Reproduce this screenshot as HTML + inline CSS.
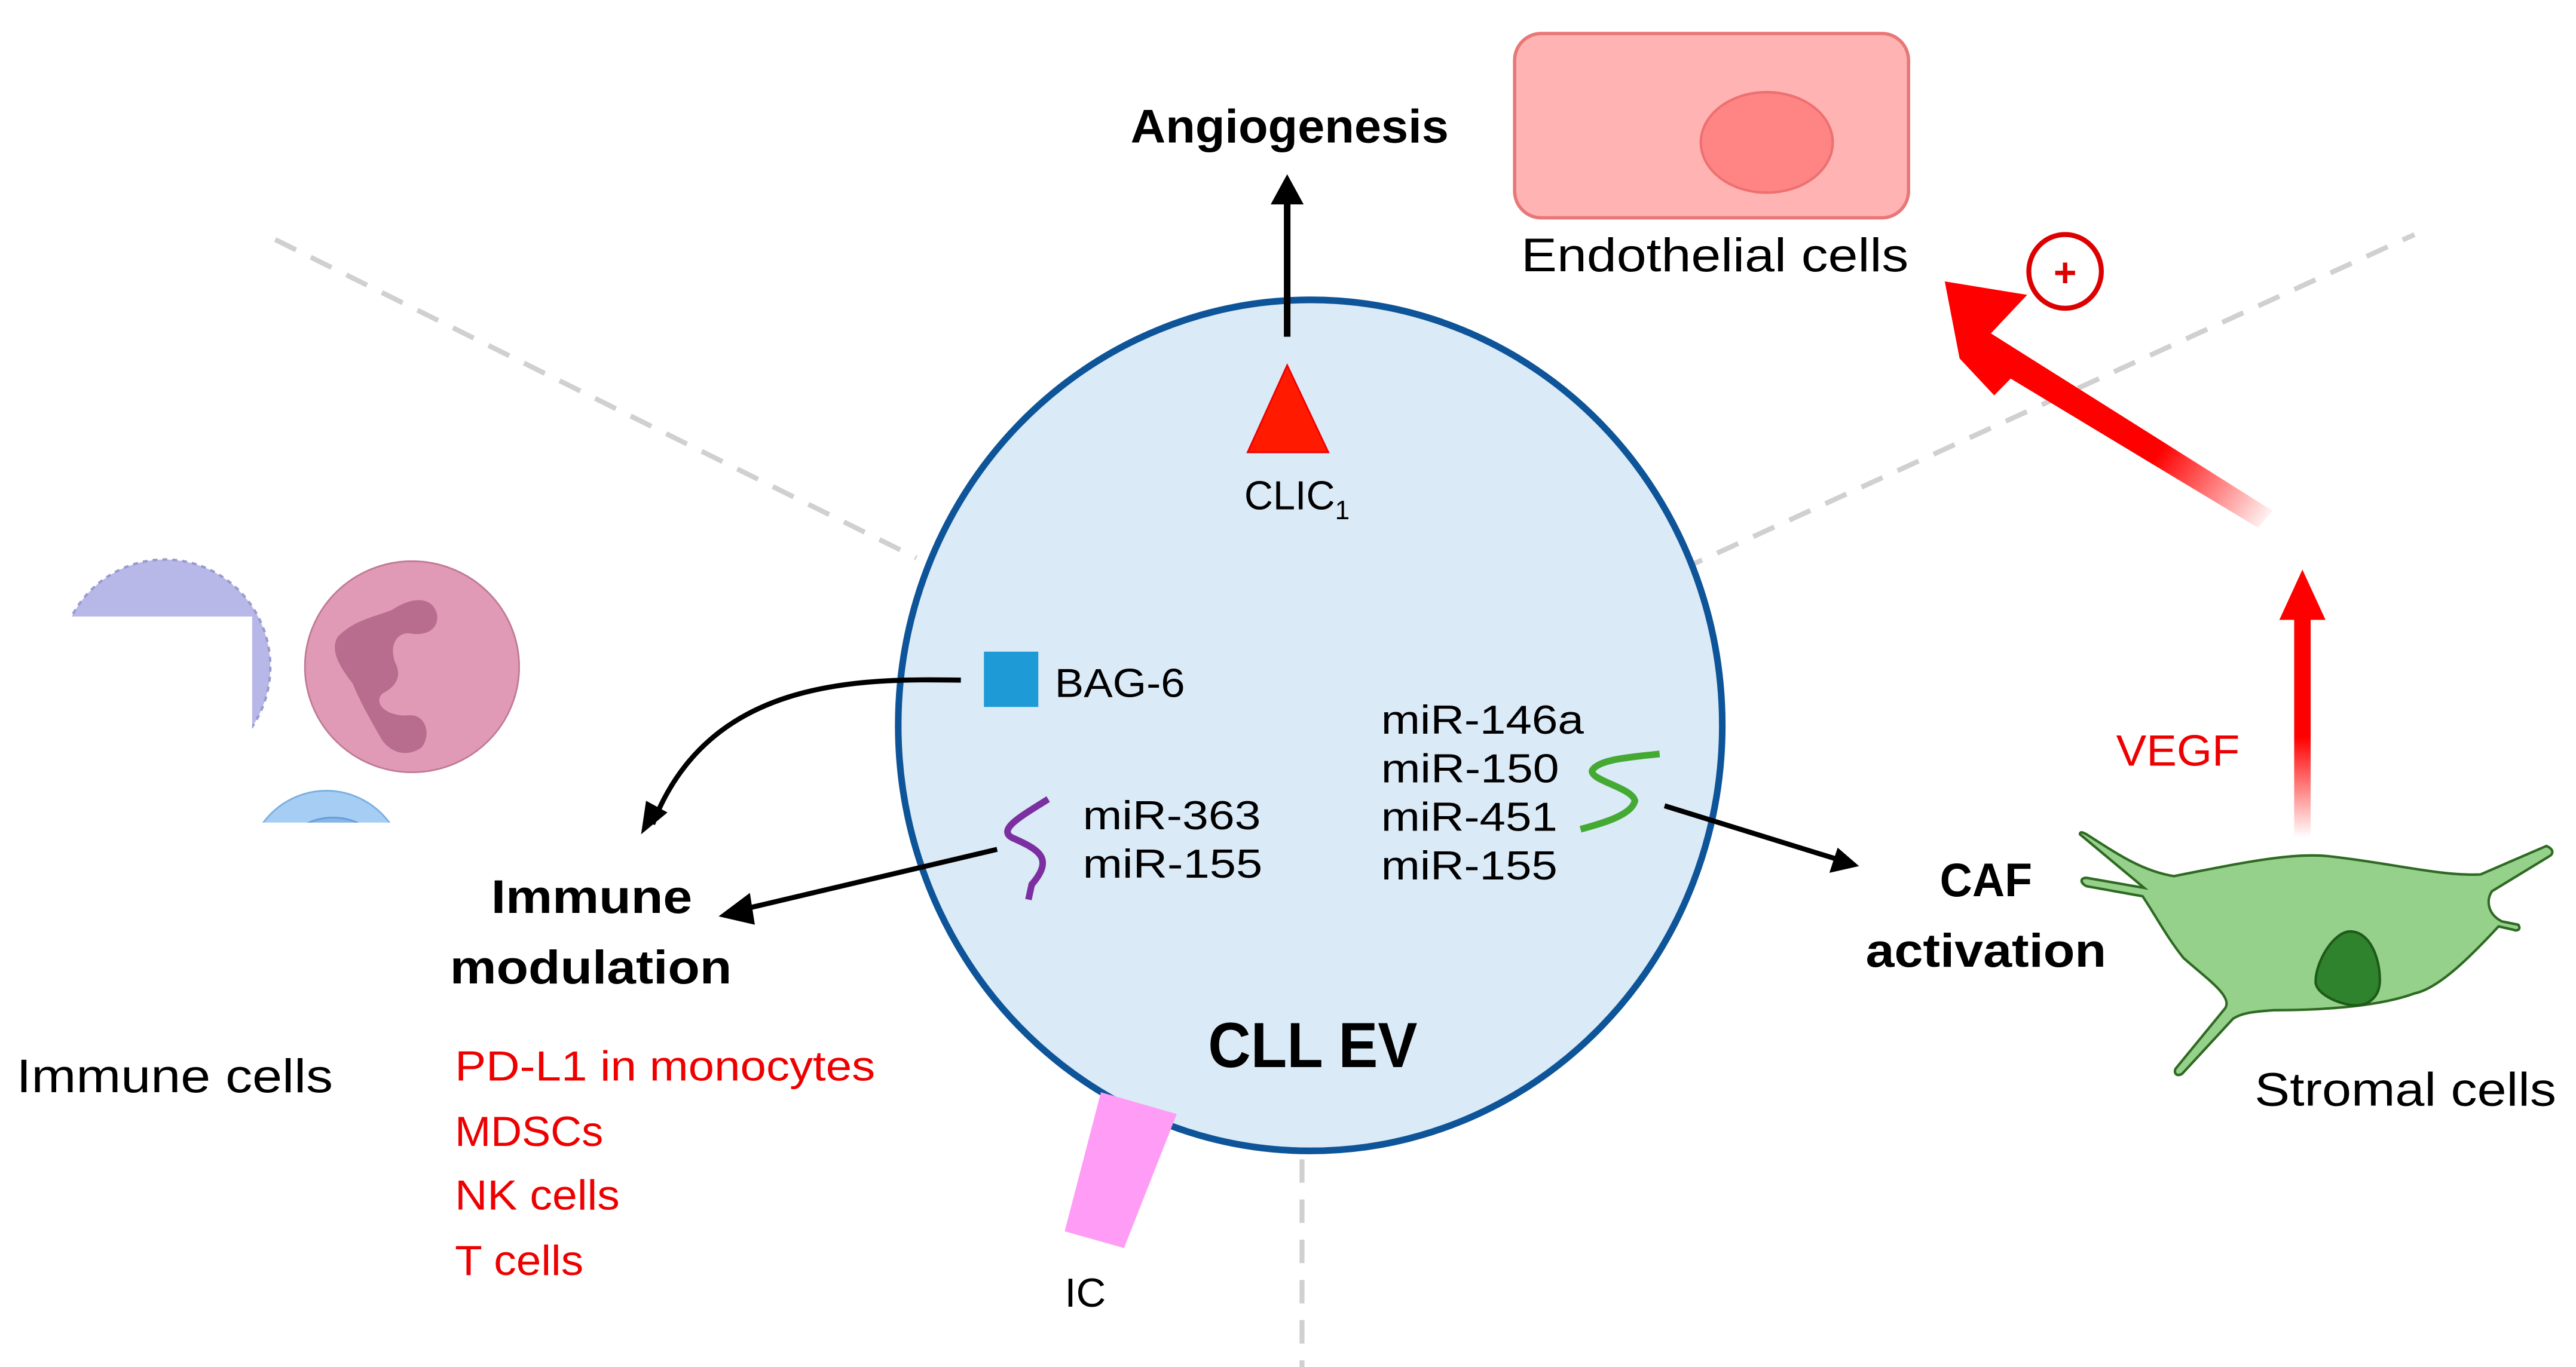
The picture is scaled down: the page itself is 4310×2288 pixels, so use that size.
<!DOCTYPE html>
<html><head><meta charset="utf-8"><style>html,body{margin:0;padding:0;background:#fff}svg{display:block}</style></head>
<body>
<svg width="4310" height="2288" viewBox="0 0 1563 816" preserveAspectRatio="none" xmlns="http://www.w3.org/2000/svg" font-family="Liberation Sans, sans-serif">
<defs>
<linearGradient id="g1" x1="1375" y1="318" x2="1240" y2="230" gradientUnits="userSpaceOnUse"><stop offset="0" stop-color="#f00" stop-opacity="0"/><stop offset="0.5" stop-color="#f00" stop-opacity="1"/><stop offset="1" stop-color="#f00"/></linearGradient>
<linearGradient id="g2" x1="0" y1="500" x2="0" y2="440" gradientUnits="userSpaceOnUse"><stop offset="0" stop-color="#f00" stop-opacity="0"/><stop offset="1" stop-color="#f00"/></linearGradient>
<clipPath id="cl1"><rect x="0" y="300" width="170" height="68"/><rect x="153" y="300" width="20" height="200"/></clipPath>
<clipPath id="cl2"><rect x="153" y="440" width="100" height="51"/></clipPath>
</defs>
<g stroke="#d0d0d0" stroke-width="3" stroke-dasharray="14 10" fill="none">
<line x1="167" y1="143" x2="556" y2="333"/>
<line x1="1020" y1="340" x2="1465" y2="140"/>
<line x1="790" y1="692" x2="790" y2="816"/>
</g>
<g clip-path="url(#cl1)"><circle cx="100" cy="398" r="64" fill="#b8b8e8" stroke="#9a9ad0" stroke-width="1.5" stroke-dasharray="3 3"/></g>
<ellipse cx="250" cy="398" rx="65" ry="63" fill="#e09ab6" stroke="#c07a96" stroke-width="1"/>
<path d="M205,380 C215,370 228,368 238,364 C250,356 262,356 265,366 C267,376 258,380 248,378 C240,378 236,386 240,396 C244,404 240,410 232,414 C226,420 235,428 248,427 C258,426 262,438 256,446 C248,452 238,450 232,442 C226,432 218,418 214,408 C206,398 200,388 205,380 Z" fill="#b86c8e"/>
<g clip-path="url(#cl2)"><circle cx="198" cy="520" r="48" fill="#a6cdf3" stroke="#7ab0e0" stroke-width="1"/><circle cx="202" cy="525" r="37" fill="#84b6ea" stroke="#6a9ed8" stroke-width="1"/></g>
<text x="10" y="652" font-size="28" fill="#000" textLength="192" lengthAdjust="spacingAndGlyphs">Immune cells</text>
<rect x="919" y="20" width="239" height="110" rx="16" fill="#ffb3b3" stroke="#e87777" stroke-width="2"/>
<ellipse cx="1072" cy="85" rx="40" ry="30" fill="#ff8585" stroke="#ee7070" stroke-width="1.5"/>
<text x="923" y="162" font-size="28" fill="#000" textLength="235" lengthAdjust="spacingAndGlyphs">Endothelial cells</text>
<circle cx="1253" cy="162" r="22" fill="none" stroke="#d00" stroke-width="3"/>
<text x="1253" y="171" font-size="24" font-weight="bold" text-anchor="middle" fill="#d00">+</text>
<polygon points="1370,315 1220,226 1210,236 1189,214 1180,168 1230,176 1208,199 1379,305" fill="url(#g1)"/>
<polygon points="1392,500 1392,370 1383,370 1397,340 1411,370 1402,370 1402,500" fill="url(#g2)"/>
<text x="1284" y="457" font-size="26" fill="#e00" textLength="75" lengthAdjust="spacingAndGlyphs">VEGF</text>
<path d="M1319,523 C1360,515 1390,509 1412,511 C1450,515 1480,523 1505,522 L1545,505 C1550,507 1549,510 1547,511 L1512,532 C1508,538 1510,546 1518,550 L1528,552 C1530,555 1527,556 1525,555 L1516,553 C1500,570 1480,590 1465,593 C1440,602 1400,603 1380,603 C1365,604 1360,605 1355,608 L1324,641 C1320,643 1319,640 1320,638 L1350,602 C1355,595 1340,585 1325,572 C1315,560 1307,545 1300,535 L1266,529 C1262,527 1262,524 1266,524 L1301,530 L1262,498 C1262,496 1264,497 1266,498 C1285,510 1300,520 1319,523 Z" fill="#96d18c" stroke="#2e6a22" stroke-width="1.5"/>
<path d="M1426,556 C1438,556 1444,572 1444,585 C1444,596 1436,601 1427,600 C1418,599 1405,593 1405,586 C1405,574 1416,556 1426,556 Z" fill="#2e832c" stroke="#1e5a1a" stroke-width="1.5"/>
<text x="1368" y="660" font-size="28" fill="#000" textLength="183" lengthAdjust="spacingAndGlyphs">Stromal cells</text>
<ellipse cx="795" cy="433" rx="250" ry="254" fill="#dbeaf7" stroke="#0d5499" stroke-width="4"/>
<line x1="781" y1="201" x2="781" y2="120" stroke="#000" stroke-width="4"/>
<polygon points="771,122 781,104 791,122" fill="#000"/>
<text x="686" y="85" font-size="28" font-weight="bold" fill="#000" textLength="193" lengthAdjust="spacingAndGlyphs">Angiogenesis</text>
<polygon points="757,270 781,218 806,270" fill="#ff1a00" stroke="#e00" stroke-width="1"/>
<text x="755" y="304" font-size="24" fill="#000"><tspan textLength="55" lengthAdjust="spacingAndGlyphs">CLIC</tspan><tspan font-size="16" dy="6">1</tspan></text>
<rect x="597" y="389" width="33" height="33" fill="#1e9ad6"/>
<text x="640" y="416" font-size="24" fill="#000" textLength="79" lengthAdjust="spacingAndGlyphs">BAG-6</text>
<path d="M583,406 C520,405 430,405 396,492" fill="none" stroke="#000" stroke-width="3"/>
<polygon points="389,498 392,478 405,485" fill="#000"/>
<path d="M636,477 C620,487 605,495 614,500 C630,507 640,512 626,528 L624,537" fill="none" stroke="#7b2fa0" stroke-width="4"/>
<text x="657" y="495" font-size="24" fill="#000" textLength="108" lengthAdjust="spacingAndGlyphs">miR-363</text>
<text x="657" y="524" font-size="24" fill="#000" textLength="109" lengthAdjust="spacingAndGlyphs">miR-155</text>
<line x1="605" y1="507" x2="450" y2="543" stroke="#000" stroke-width="3"/>
<polygon points="436,547 455,533 458,552" fill="#000"/>
<text x="298" y="545" font-size="28" font-weight="bold" fill="#000" textLength="122" lengthAdjust="spacingAndGlyphs">Immune</text>
<text x="273" y="587" font-size="28" font-weight="bold" fill="#000" textLength="171" lengthAdjust="spacingAndGlyphs">modulation</text>
<g font-size="25" fill="#e00">
<text x="276" y="645" textLength="255" lengthAdjust="spacingAndGlyphs">PD-L1 in monocytes</text>
<text x="276" y="684" textLength="90" lengthAdjust="spacingAndGlyphs">MDSCs</text>
<text x="276" y="722" textLength="100" lengthAdjust="spacingAndGlyphs">NK cells</text>
<text x="276" y="761" textLength="78" lengthAdjust="spacingAndGlyphs">T cells</text>
</g>
<g font-size="24" fill="#000">
<text x="838" y="438" textLength="123" lengthAdjust="spacingAndGlyphs">miR-146a</text>
<text x="838" y="467" textLength="108" lengthAdjust="spacingAndGlyphs">miR-150</text>
<text x="838" y="496" textLength="107" lengthAdjust="spacingAndGlyphs">miR-451</text>
<text x="838" y="525" textLength="107" lengthAdjust="spacingAndGlyphs">miR-155</text>
</g>
<path d="M1007,450 C990,452 970,453 966,460 C965,466 990,470 992,478 C990,487 970,492 959,495" fill="none" stroke="#44aa33" stroke-width="4"/>
<line x1="1010" y1="481" x2="1115" y2="513" stroke="#000" stroke-width="3"/>
<polygon points="1128,517 1110,521 1115,506" fill="#000"/>
<text x="1177" y="535" font-size="28" font-weight="bold" fill="#000" textLength="56" lengthAdjust="spacingAndGlyphs">CAF</text>
<text x="1132" y="577" font-size="28" font-weight="bold" fill="#000" textLength="146" lengthAdjust="spacingAndGlyphs">activation</text>
<text x="733" y="637" font-size="38" font-weight="bold" fill="#000" textLength="127" lengthAdjust="spacingAndGlyphs">CLL EV</text>
<polygon points="668,652 714,665 682,745 646,735" fill="#ff9cf5"/>
<text x="646" y="780" font-size="24" fill="#000" textLength="25" lengthAdjust="spacingAndGlyphs">IC</text>
</svg>
</body></html>
